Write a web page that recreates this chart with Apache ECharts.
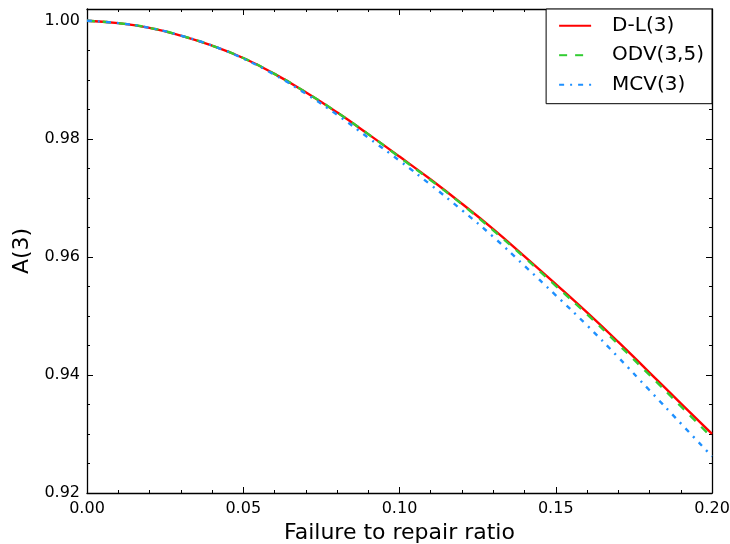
<!DOCTYPE html>
<html><head><meta charset="utf-8">
<script src="https://cdn.jsdelivr.net/npm/echarts@6/dist/echarts.min.js"></script>
<style>html,body{margin:0;padding:0;background:#fff}#c{width:730px;height:544px}</style>
</head><body><div id="c"></div>
<script>
const ratios = [0.00,0.01,0.02,0.03,0.04,0.05,0.06,0.07,0.08,0.09,0.10,0.11,0.12,0.13,0.14,0.15,0.16,0.17,0.18,0.19,0.20];
const dl3  = [1.0000,0.9996,0.9988,0.9975,0.9958,0.9937,0.9910,0.9879,0.9845,0.9808,0.9770,0.9731,0.9690,0.9647,0.9601,0.9554,0.9506,0.9456,0.9404,0.9352,0.9300];
const odv35= [1.0000,0.9996,0.9988,0.9975,0.9958,0.9937,0.9910,0.9879,0.9845,0.9808,0.9769,0.9730,0.9689,0.9645,0.9599,0.9551,0.9503,0.9452,0.9400,0.9347,0.9294];
const mcv3 = [1.0000,0.9996,0.9988,0.9975,0.9958,0.9936,0.99085,0.98765,0.9841,0.9802,0.9763,0.9722,0.9679,0.9634,0.9585,0.9535,0.9484,0.9430,0.9374,0.9318,0.9262];
const seriesNames = ['D-L(3)','ODV(3,5)','MCV(3)'];
const xTicks = [0.00,0.05,0.10,0.15,0.20];
const yTicks = [0.92,0.94,0.96,0.98,1.00];

const font = 'DejaVu Sans';
const pair = (ys) => ratios.map((x,i)=>[x, ys[i]]);
const baseX = {
  type:'value', min:0, max:0.2, interval:0.05,
  axisLine:{show:true, onZero:false, lineStyle:{color:'#000', width:1.3}},
  axisTick:{show:true, inside:true, length:6, lineStyle:{color:'#000', width:1}},
  minorTick:{show:true, splitNumber:5, length:3, lineStyle:{color:'#000', width:1}},
  splitLine:{show:false}
};
const baseY = {
  type:'value', min:0.92, max:1.002, interval:0.02,
  axisLine:{show:true, onZero:false, lineStyle:{color:'#000', width:1.3}},
  axisTick:{show:true, inside:true, length:6, lineStyle:{color:'#000', width:1}},
  minorTick:{show:true, splitNumber:4, length:3, lineStyle:{color:'#000', width:1}},
  splitLine:{show:false}
};
const chart = echarts.init(document.getElementById('c'), null, {renderer:'canvas'});
chart.setOption({
  animation:false,
  backgroundColor:'#fff',
  grid:{left:87, right:18, top:9, bottom:51, containLabel:false, outerBoundsMode:'none'},
  xAxis:[
    Object.assign({}, baseX, {position:'bottom',
      name:'Failure to repair ratio', nameLocation:'middle', nameGap:27,
      nameTextStyle:{fontFamily:font, fontSize:22, color:'#000'},
      axisLabel:{show:true, margin:8, fontFamily:font, fontSize:16, color:'#000',
        formatter:(v)=> xTicks.some(t=>Math.abs(t-v)<1e-9) ? v.toFixed(2) : ''}}),
    Object.assign({}, baseX, {position:'top', axisLabel:{show:false}})
  ],
  yAxis:[
    Object.assign({}, baseY, {position:'left',
      name:'A(3)', nameLocation:'middle', nameGap:48, nameRotate:90,
      nameTextStyle:{fontFamily:font, fontSize:22, color:'#000'},
      axisLabel:{show:true, margin:7, fontFamily:font, fontSize:16, color:'#000', showMaxLabel:false,
        formatter:(v)=> yTicks.some(t=>Math.abs(t-v)<1e-9) ? v.toFixed(2) : ''}}),
    Object.assign({}, baseY, {position:'right', axisLabel:{show:false}})
  ],
  legend:{
    orient:'vertical', right:18, top:9,
    data:seriesNames,
    itemWidth:32, itemHeight:20, itemGap:9.5,
    padding:[6.7,8,9,12],
    borderColor:'#000', borderWidth:1, borderRadius:0,
    backgroundColor:'#fff',
    itemStyle:{color:'rgba(0,0,0,0)', borderWidth:0, opacity:0},
    textStyle:{fontFamily:font, fontSize:20, color:'#000', padding:[0,0,0,16]}
  },
  series:[
    {name:seriesNames[0], type:'line', data:pair(dl3), smooth:true, symbol:'none', z:3,
     lineStyle:{color:'#ff0000', width:2.4, type:'solid'}, itemStyle:{color:'#ff0000'}},
    {name:seriesNames[1], type:'line', data:pair(odv35), smooth:true, symbol:'none', z:4,
     lineStyle:{color:'#32cd32', width:2.4, type:[8,8]}, itemStyle:{color:'#32cd32'}},
    {name:seriesNames[2], type:'line', data:pair(mcv3), smooth:true, symbol:'none', z:5,
     lineStyle:{color:'#1e90ff', width:2.4, type:[5,6,2,6]}, itemStyle:{color:'#1e90ff'}}
  ]
});
</script></body></html>
